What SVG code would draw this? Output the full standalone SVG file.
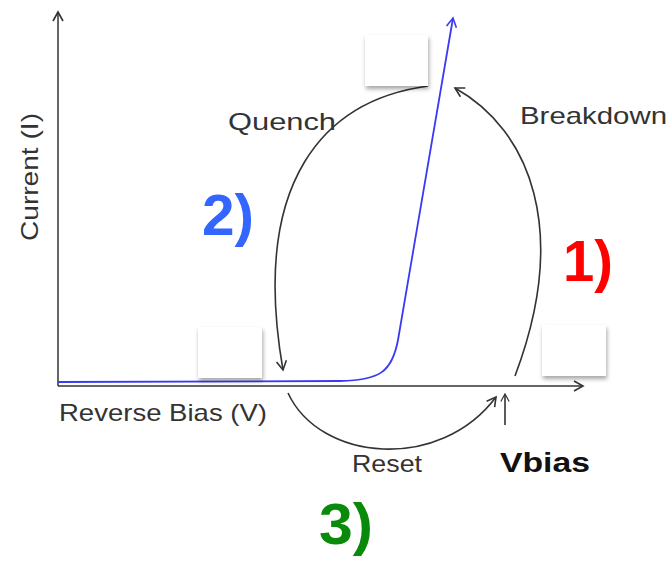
<svg xmlns="http://www.w3.org/2000/svg" width="672" height="563" viewBox="0 0 672 563">
<defs>
<marker id="ah" viewBox="0 0 12 12" refX="10" refY="6" markerWidth="12" markerHeight="12" markerUnits="userSpaceOnUse" orient="auto">
<path d="M1,1 L10,6 L1,11" fill="none" stroke="#333" stroke-width="1.6"/>
</marker>
<marker id="ahb" viewBox="0 0 12 12" refX="10" refY="6" markerWidth="12" markerHeight="12" markerUnits="userSpaceOnUse" orient="auto">
<path d="M1,1 L10,6 L1,11" fill="none" stroke="#3a3af5" stroke-width="1.6"/>
</marker>
<marker id="ahs" viewBox="0 0 12 12" refX="10" refY="6" markerWidth="10" markerHeight="10" markerUnits="userSpaceOnUse" orient="auto">
<path d="M1,1 L10,6 L1,11" fill="none" stroke="#333" stroke-width="1.4"/>
</marker>
<filter id="sh" x="-20%" y="-20%" width="150%" height="160%">
<feDropShadow dx="1" dy="3" stdDeviation="2" flood-color="#000" flood-opacity="0.35"/>
</filter>
</defs>
<style>
.ax{fill:none;stroke:#333;stroke-width:1.5}
.arc{fill:none;stroke:#333;stroke-width:1.6}
.lbl{font-family:"Liberation Sans",Arial,sans-serif;font-size:24px;fill:#333}
.num{font-family:"Liberation Sans",Arial,sans-serif;font-weight:bold;font-size:57px}
.box{fill:#fff;filter:url(#sh)}
</style>
<rect width="672" height="563" fill="#fff"/>
<g id="axes">
<line class="ax" x1="58" y1="386" x2="58" y2="12" marker-end="url(#ah)"/>
<line class="ax" x1="58" y1="386" x2="583" y2="386" marker-end="url(#ah)"/>
</g>
<g id="curve">
<path d="M58,382 L340,381 C380,380 392,372 398,340 L453,18" fill="none" stroke="#3a3af5" stroke-width="1.8" marker-end="url(#ahb)"/>
</g>
<g id="connectors">
<path class="arc" d="M428,86 C325,100 250,180 283,370" marker-end="url(#ah)"/>
<path class="arc" d="M515,376 C570,230 530,130 455,88" marker-end="url(#ah)"/>
<path class="arc" d="M288,393 C320,462 440,472 496,397" marker-end="url(#ah)"/>
<line class="arc" x1="505" y1="425" x2="505" y2="394" marker-end="url(#ahs)"/>
</g>
<g id="box-top"><rect class="box" x="365" y="35" width="63" height="51"/></g>
<g id="box-left"><rect class="box" x="198" y="327" width="64" height="51"/></g>
<g id="box-right"><rect class="box" x="542" y="325" width="64" height="51"/></g>
<g id="labels">
<text class="lbl" x="228" y="130" textLength="108" lengthAdjust="spacingAndGlyphs">Quench</text>
<text class="lbl" x="520" y="124" textLength="147" lengthAdjust="spacingAndGlyphs">Breakdown</text>
<text class="lbl" transform="translate(38,241) rotate(-90)" textLength="128" lengthAdjust="spacingAndGlyphs">Current (I)</text>
<text class="lbl" x="59" y="421" textLength="208" lengthAdjust="spacingAndGlyphs">Reverse Bias (V)</text>
<text class="lbl" x="352" y="472" textLength="70" lengthAdjust="spacingAndGlyphs">Reset</text>
<text x="500" y="472" textLength="90" lengthAdjust="spacingAndGlyphs" style="font-family:'Liberation Sans',Arial,sans-serif;font-weight:bold;font-size:28px;fill:#111">Vbias</text>
</g>
<g id="numbers">
<text class="num" x="202" y="235" fill="#3366ff" textLength="52" lengthAdjust="spacingAndGlyphs">2)</text>
<text class="num" x="563" y="281" fill="#ff0000" textLength="50" lengthAdjust="spacingAndGlyphs">1)</text>
<text class="num" x="319" y="544" fill="#0a8a0a" textLength="54" lengthAdjust="spacingAndGlyphs">3)</text>
</g>
</svg>
